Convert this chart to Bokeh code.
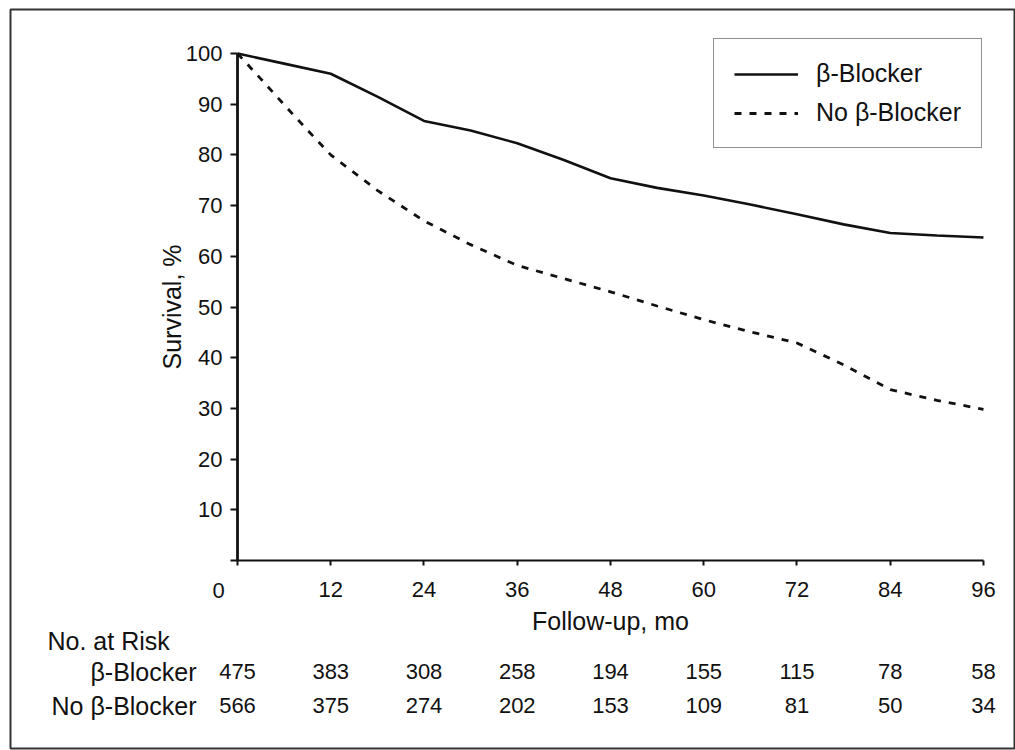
from bokeh.plotting import figure
from bokeh.models import Range1d, Label, FixedTicker, ColumnDataSource, LinearAxis
from bokeh.core.properties import value
from bokeh.embed import file_html
from bokeh.resources import INLINE

# ---- data ----
months_bb = [0, 6, 12, 18, 24, 30, 36, 42, 48, 54, 60, 66, 72, 78, 84, 90, 96]
surv_bb = [100, 98.0, 96.0, 91.5, 86.7, 84.8, 82.3, 79.0, 75.4, 73.5, 72.0, 70.2, 68.3, 66.3, 64.6, 64.1, 63.7]

months_nb = [0, 3, 6, 9, 12, 18, 24, 30, 36, 42, 48, 54, 60, 66, 72, 78, 84, 90, 96]
surv_nb = [100, 95.0, 89.9, 84.9, 80.0, 73.0, 67.0, 62.3, 58.2, 55.6, 53.0, 50.2, 47.5, 45.1, 42.9, 38.6, 33.7, 31.6, 29.8]

risk_months = [0, 12, 24, 36, 48, 60, 72, 84, 96]
risk_bb = [475, 383, 308, 258, 194, 155, 115, 78, 58]
risk_nb = [566, 375, 274, 202, 153, 109, 81, 50, 34]

x_ticks = [0, 12, 24, 36, 48, 60, 72, 84, 96]
y_ticks = [0, 10, 20, 30, 40, 50, 60, 70, 80, 90, 100]

series_names = ["\u03b2-Blocker", "No \u03b2-Blocker"]
x_title = "Follow-up, mo"
y_title = "Survival, %"
risk_title = "No. at Risk"

# ---- layout constants (pixel mapping of the reference) ----
W, H = 1015, 750
PX0, PX_PER_MO = 237.0, 7.7708     # x pixel of month 0, pixels per month
PY0, PY_PER_PCT = 560.0, 5.07      # y pixel of 0 %, pixels per percent
B_L, B_T, B_B = 10, 9, 2           # outer border offsets


def dx(px):
    return (px - PX0) / PX_PER_MO


def dy(py):
    return (PY0 - py) / PY_PER_PCT


FONT = "Liberation Sans"
INK = "#111111"
NUM_SIZE = "22px"
WORD_SIZE = "25px"

p = figure(width=W, height=H, output_backend="svg", toolbar_location=None,
           x_range=Range1d(dx(B_L), dx(W)), y_range=Range1d(dy(H - B_B), dy(B_T)),
           min_border_left=B_L, min_border_top=B_T, min_border_right=0, min_border_bottom=B_B,
           x_axis_location=None, y_axis_location=None)
p.background_fill_color = "white"
p.border_fill_color = "white"
p.outline_line_color = "#333333"
p.outline_line_width = 2
p.xgrid.visible = False
p.ygrid.visible = False

xaxis = LinearAxis(fixed_location=0, bounds=(0, 96), ticker=FixedTicker(ticks=x_ticks),
                   major_label_overrides={0: ""})
yaxis = LinearAxis(fixed_location=0, bounds=(0, 100), ticker=FixedTicker(ticks=y_ticks),
                   major_label_overrides={0: ""})
p.add_layout(xaxis, "below")
p.add_layout(yaxis, "left")

for ax in (xaxis, yaxis):
    ax.axis_line_color = INK
    ax.major_tick_line_color = INK
    ax.major_tick_line_width = 2
    ax.major_tick_in = 0
    ax.minor_tick_line_color = None
    ax.major_label_text_font = FONT
    ax.major_label_text_font_size = NUM_SIZE
    ax.major_label_text_color = INK
    ax.axis_label_text_font = FONT
    ax.axis_label_text_font_size = WORD_SIZE
    ax.axis_label_text_font_style = "normal"
    ax.axis_label_text_color = INK

xaxis.axis_line_width = 2.2
yaxis.axis_line_width = 2.8
xaxis.major_tick_out = 5
yaxis.major_tick_out = 7
xaxis.major_label_standoff = 16
yaxis.major_label_standoff = 8
xaxis.axis_label = x_title
yaxis.axis_label = y_title
xaxis.axis_label_standoff = 7
yaxis.axis_label_standoff = -3

# ---- survival curves ----
src_bb = ColumnDataSource(dict(x=months_bb, y=surv_bb))
src_nb = ColumnDataSource(dict(x=months_nb, y=surv_nb))
p.line("x", "y", source=src_bb, line_color=INK, line_width=2.6, legend_label=series_names[0])
p.line("x", "y", source=src_nb, line_color=INK, line_width=2.8, line_dash="7 8",
       legend_label=series_names[1])

leg = p.legend[0]
leg.location = (703, 600)
leg.label_text_font = FONT
leg.label_text_font_size = WORD_SIZE
leg.label_text_color = INK
leg.glyph_width = 64
leg.glyph_height = 26
leg.label_height = 26
leg.label_standoff = 18
leg.spacing = 10
leg.padding = 20
leg.margin = 0
leg.border_line_color = "#222222"
leg.border_line_width = 1.6
leg.background_fill_color = "white"

# "0" at the corner of the axes
p.add_layout(Label(x=dx(218), y=dy(590), text="0", text_align="center", text_baseline="middle",
                   text_font=FONT, text_font_size=NUM_SIZE, text_color=INK))

# ---- numbers at risk ----
row_y_bb = dy(671)
row_y_nb = dy(705)
tab = ColumnDataSource(dict(
    x=risk_months + risk_months,
    y=[row_y_bb] * len(risk_bb) + [row_y_nb] * len(risk_nb),
    t=[str(v) for v in risk_bb] + [str(v) for v in risk_nb],
))
p.text("x", "y", text="t", source=tab, text_align="center", text_baseline="middle",
       text_font=value(FONT), text_font_size=NUM_SIZE, text_color=INK)

p.add_layout(Label(x=dx(47), y=dy(640), text=risk_title, text_align="left", text_baseline="middle",
                   text_font=FONT, text_font_size=WORD_SIZE, text_color=INK))
for name, yy in zip(series_names, [row_y_bb, row_y_nb]):
    p.add_layout(Label(x=dx(196), y=yy, text=name, text_align="right", text_baseline="middle",
                       text_font=FONT, text_font_size=WORD_SIZE, text_color=INK))

open("out.html", "w").write(file_html(p, INLINE))
